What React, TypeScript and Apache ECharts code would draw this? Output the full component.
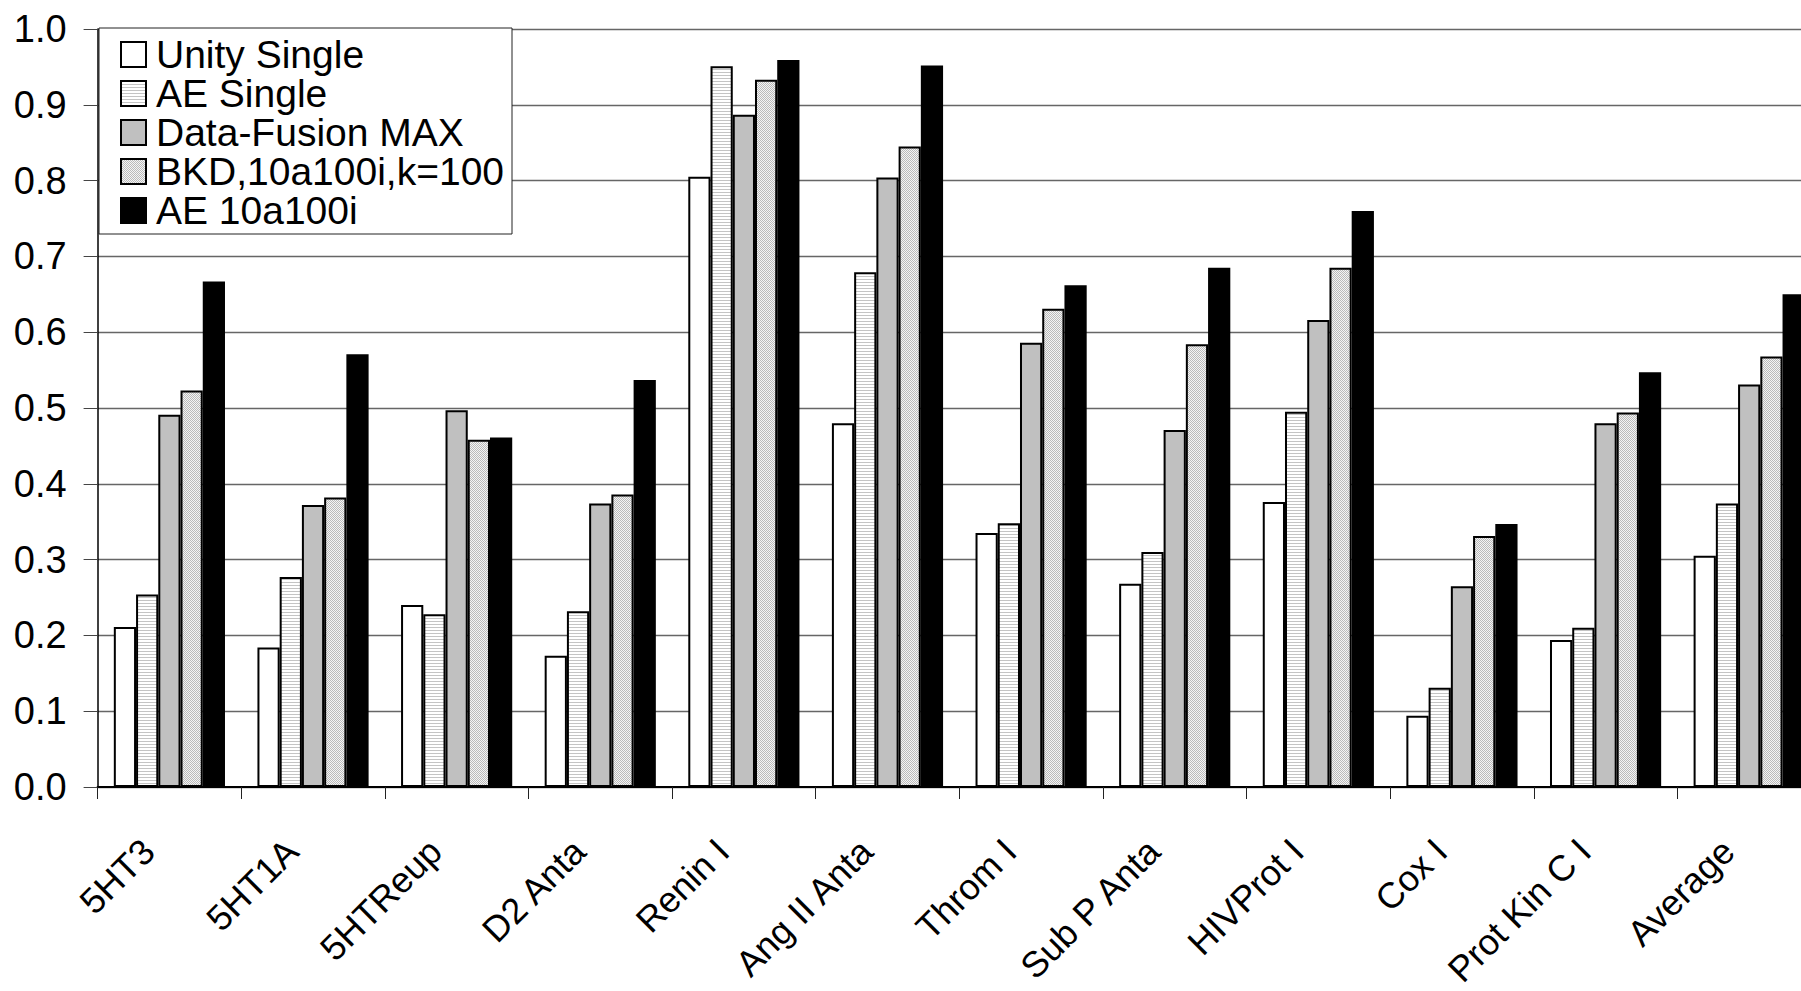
import React, { useEffect, useRef } from "react";
import * as echarts from "echarts";

const categories = ["5HT3", "5HT1A", "5HTReup", "D2 Anta", "Renin I", "Ang II Anta", "Throm I", "Sub P Anta", "HIVProt I", "Cox I", "Prot Kin C I", "Average"];
const seriesNames = ["Unity Single", "AE Single", "Data-Fusion MAX", "BKD,10a100i,k=100", "AE 10a100i"];
const unitySingle = [0.211, 0.184, 0.240, 0.173, 0.805, 0.480, 0.335, 0.268, 0.376, 0.094, 0.194, 0.305];
const aeSingle = [0.254, 0.277, 0.228, 0.232, 0.951, 0.679, 0.348, 0.310, 0.495, 0.131, 0.210, 0.374];
const dataFusionMax = [0.491, 0.372, 0.497, 0.374, 0.887, 0.804, 0.586, 0.471, 0.616, 0.265, 0.480, 0.531];
const bkd = [0.523, 0.382, 0.458, 0.386, 0.933, 0.845, 0.631, 0.584, 0.685, 0.331, 0.494, 0.568];
const ae10a100i = [0.667, 0.571, 0.461, 0.537, 0.959, 0.952, 0.662, 0.685, 0.760, 0.347, 0.547, 0.650];
const yTicks = [0, 0.1, 0.2, 0.3, 0.4, 0.5, 0.6, 0.7, 0.8, 0.9, 1.0];

const CHART_W = 1830;
const H = 991;
const FONT = "'Liberation Sans', Arial, sans-serif";

function makePattern(kind: string): HTMLCanvasElement {
  const c = document.createElement("canvas");
  const ctx = c.getContext("2d")!;
  if (kind === "stripe") {
    c.width = 3;
    c.height = 3;
    ctx.fillStyle = "#ffffff";
    ctx.fillRect(0, 0, 3, 3);
    ctx.fillStyle = "#c4c4c4";
    ctx.fillRect(0, 0, 3, 1);
  } else {
    c.width = 2;
    c.height = 2;
    ctx.fillStyle = "#f4f4f4";
    ctx.fillRect(0, 0, 2, 2);
    ctx.fillStyle = "#bababa";
    ctx.fillRect(0, 0, 1, 1);
    ctx.fillRect(1, 1, 1, 1);
  }
  return c;
}

export default function App() {
  const ref = useRef<HTMLDivElement>(null);
  useEffect(() => {
    if (!ref.current) return;
    const chart = echarts.init(ref.current, null, { renderer: "svg" });
    const fills: any[] = [
      "#ffffff",
      { image: makePattern("stripe"), repeat: "repeat" },
      "#c0c0c0",
      { image: makePattern("dots"), repeat: "repeat" },
      "#000000",
    ];
    const dataSets = [unitySingle, aeSingle, dataFusionMax, bkd, ae10a100i];
    chart.setOption({
      animation: false,
      backgroundColor: "#ffffff",
      grid: {
        left: 97.6,
        right: CHART_W - 1821,
        top: 29,
        bottom: H - 787,
        outerBoundsMode: "none",
        containLabel: false,
      },
      legend: {
        orient: "vertical",
        left: 99,
        top: 28,
        padding: [7, 8, 4, 21],
        itemGap: 0,
        itemWidth: 25,
        itemHeight: 25,
        backgroundColor: "#ffffff",
        borderColor: "#222222",
        borderWidth: 1,
        borderRadius: 0,
        icon: "rect",
        data: seriesNames,
        textStyle: {
          fontFamily: FONT,
          fontSize: 39,
          lineHeight: 37.6,
          color: "#000000",
          padding: [0, 0, 0, 5],
        },
      },
      xAxis: {
        type: "category",
        data: categories,
        axisLine: { show: true, lineStyle: { color: "#000000", width: 2 } },
        axisTick: { show: true, length: 12, lineStyle: { color: "#222222", width: 1 } },
        axisLabel: {
          interval: 0,
          rotate: 45,
          margin: 37,
          padding: [0, 30, 0, 0],
          lineHeight: 28,
          fontFamily: FONT,
          fontSize: 36,
          color: "#000000",
        },
        splitLine: { show: false },
      },
      yAxis: {
        type: "value",
        min: yTicks[0],
        max: yTicks[yTicks.length - 1],
        interval: 0.1,
        axisLine: { show: true, lineStyle: { color: "#000000", width: 1.5 } },
        axisTick: { show: true, inside: false, length: 14, lineStyle: { color: "#444444", width: 1 } },
        axisLabel: {
          margin: 31,
          fontFamily: FONT,
          fontSize: 38,
          color: "#000000",
          formatter: (v: number) => v.toFixed(1),
        },
        splitLine: { show: true, lineStyle: { color: "#666666", width: 1.3 } },
      },
      series: seriesNames.map((name, i) => ({
        name,
        type: "bar",
        data: dataSets[i],
        barGap: "0%",
        barCategoryGap: "22.6%",
        itemStyle: {
          color: fills[i],
          borderColor: "#000000",
          borderWidth: 2,
        },
      })),
    });
    return () => {
      chart.dispose();
    };
  }, []);

  return (
    <div
      style={{
        position: "fixed",
        left: 0,
        top: 0,
        width: 1801,
        height: H,
        overflow: "hidden",
        background: "#ffffff",
      }}
    >
      <div ref={ref} style={{ width: CHART_W, height: H }} />
    </div>
  );
}
